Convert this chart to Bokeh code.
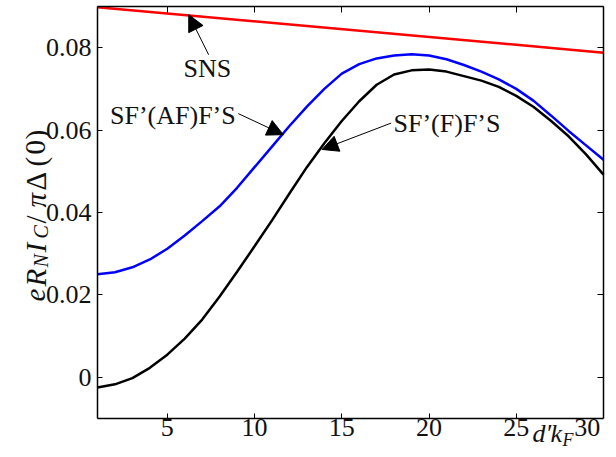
from bokeh.plotting import figure
from bokeh.models import Range1d, LinearAxis, FixedTicker, Label, Arrow, NormalHead
from bokeh.embed import file_html
from bokeh.resources import INLINE

# ---- data ----
x_vals = list(range(1, 31))
sns_x = [1, 30]
sns_y = [0.0898, 0.0788]
af_y = [0.0250, 0.0255, 0.0267, 0.0286, 0.0312, 0.0344, 0.0379, 0.0415, 0.0460, 0.0510,
        0.0560, 0.0610, 0.0657, 0.0700, 0.0737, 0.0760, 0.0774, 0.0781, 0.0784, 0.0781,
        0.0772, 0.0758, 0.0742, 0.0723, 0.0700, 0.0671, 0.0635, 0.0598, 0.0563, 0.0528]
f_y = [-0.0025, -0.0017, -0.0002, 0.0023, 0.0055, 0.0094, 0.0140, 0.0196, 0.0256, 0.0318,
       0.0381, 0.0446, 0.0510, 0.0568, 0.0622, 0.0670, 0.0710, 0.0735, 0.0745, 0.0747,
       0.0742, 0.0731, 0.0720, 0.0705, 0.0683, 0.0656, 0.0622, 0.0585, 0.0541, 0.0492]
x_ticks = [5, 10, 15, 20, 25, 30]
y_ticks = [0, 0.02, 0.04, 0.06, 0.08]
x_lim = [1, 30]
y_lim = [-0.01, 0.09]

FONT = "Liberation Serif"
FS = "26px"

# ---- layout: plot box in canvas pixels ----
W, H = 616, 457
BOX_L, BOX_R, BOX_T, BOX_B = 97, 603, 6, 418
sx = (x_lim[1] - x_lim[0]) / (BOX_R - BOX_L)
sy = (y_lim[1] - y_lim[0]) / (BOX_B - BOX_T)

def px2x(px):
    return x_lim[0] + (px - BOX_L) * sx

def py2y(py):
    return y_lim[1] - (py - BOX_T) * sy

p = figure(width=W, height=H, output_backend="svg", toolbar_location=None,
           x_range=Range1d(px2x(0), px2x(W)), y_range=Range1d(py2y(H), py2y(0)),
           min_border=0, x_axis_type=None, y_axis_type=None)
p.background_fill_color = "white"
p.border_fill_color = "white"
p.outline_line_color = None
p.grid.visible = False

def make_axis(ticks, loc, bounds, tick_in, labels=True):
    ax = LinearAxis(ticker=FixedTicker(ticks=ticks), fixed_location=loc, bounds=tuple(bounds),
                    major_tick_in=tick_in, major_tick_out=0, minor_tick_line_color=None,
                    axis_line_width=1.5, axis_line_color="black",
                    major_tick_line_width=1, major_tick_line_color="black")
    if labels:
        ax.major_label_text_font = FONT
        ax.major_label_text_font_size = FS
        ax.major_label_text_color = "#111111"
    else:
        ax.major_label_text_color = None
    return ax

xb = make_axis(x_ticks[:-1], y_lim[0], x_lim, 5)
xb.major_label_standoff = 0
yl = make_axis(y_ticks, x_lim[0], y_lim, 5)
yl.major_label_standoff = 6
yl.major_label_overrides = {0: "0"}
xt = make_axis(x_ticks, y_lim[1], x_lim, 6, labels=False)
yr = make_axis(y_ticks, x_lim[1], y_lim, 6, labels=False)
p.add_layout(xb, "below")
p.add_layout(yl, "left")
p.add_layout(xt, "above")
p.add_layout(yr, "right")

p.line(sns_x, sns_y, line_color="#ff0000", line_width=2.5)
p.line(x_vals, af_y, line_color="#0000ff", line_width=2.5)
p.line(x_vals, f_y, line_color="black", line_width=2.5)

def lab(x, y, t, size=FS, style="normal", align="center", base="middle", angle=0):
    p.add_layout(Label(x=x, y=y, text=t, text_font=FONT, text_font_size=size,
                       text_font_style=style, text_align=align, text_baseline=base,
                       text_color="#111111", angle=angle, angle_units="deg"))

def arrow(xs, ys, xe, ye):
    p.add_layout(Arrow(end=NormalHead(size=16, fill_color="black", line_color="black"),
                       x_start=xs, y_start=ys, x_end=xe, y_end=ye,
                       line_color="black", line_width=1))

# annotations
lab(7.3, 0.0749, "SNS")
arrow(7.37, 0.0783, 6.23, 0.0880)
lab(5.32, 0.0635, "SF\u2019(AF)F\u2019S")
arrow(9.07, 0.0640, 11.65, 0.0589)
lab(21.03, 0.0616, "SF\u2019(F)F\u2019S")
arrow(17.83, 0.0617, 13.87, 0.0553)

# last x tick label (shifted left, as in the reference) and x-axis label pieces
TOPY = py2y(BOX_B)
lab(px2x(586.7), TOPY, str(x_ticks[-1]), base="top")
lab(px2x(532), TOPY, "d\u2032", style="italic", align="left", base="top")
lab(px2x(550), TOPY, "k", style="italic", align="left", base="top")
lab(px2x(562), py2y(BOX_B + 11), "F", size="18px", style="italic", align="left", base="top")

# y-axis label pieces (rotated): text, start (canvas y), style, size, baseline (canvas x)
ypieces = [("e", 301, "italic", "29px", 35), ("R", 286, "italic", "29px", 35),
           ("N", 267, "italic", "20px", 40), ("I", 252, "italic", "29px", 35),
           ("C", 238, "italic", "20px", 40), ("/", 223, "normal", "29px", 35),
           ("\u03c0", 207, "italic", "29px", 35), ("\u0394", 190, "normal", "29px", 35),
           ("(", 166, "normal", "29px", 35), ("0", 154, "normal", "29px", 35),
           (")", 139, "normal", "29px", 35)]
for t, py, st, sz, bx in ypieces:
    lab(px2x(bx), py2y(py), t, size=sz, style=st, align="left", base="alphabetic", angle=90)

open("out.html", "w").write(file_html(p, INLINE))
